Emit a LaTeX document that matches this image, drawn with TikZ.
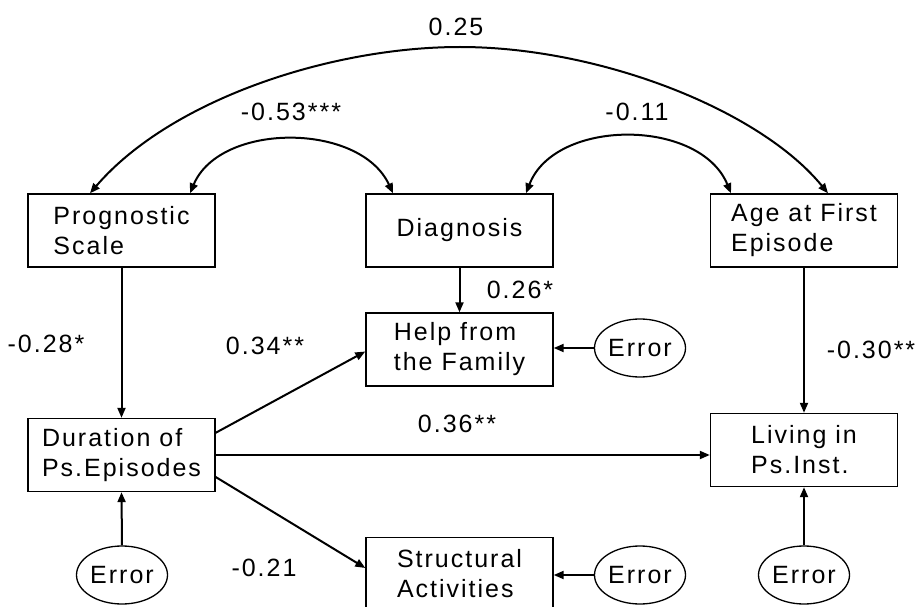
\documentclass[tikz,border=0pt]{standalone}
\usepackage{fontspec}
\setmainfont{Liberation Sans}[LetterSpace=8]
\usetikzlibrary{arrows.meta,shapes.geometric}
\begin{document}
\begin{tikzpicture}[x=1pt,y=-1pt,
  font=\fontsize{25}{30}\selectfont,
  box/.style={draw, line width=1.4pt, minimum width=187pt, minimum height=73pt, align=left, inner sep=0pt},
  err/.style={draw, ellipse, line width=1.3pt, minimum width=91pt, minimum height=58pt, inner sep=0pt},
  arr/.style={line width=2pt, -{Triangle[length=10pt,width=8pt]}},
  darr/.style={line width=2pt, {Triangle[length=10pt,width=8pt]}-{Triangle[length=10pt,width=8pt]}},
  lab/.style={inner sep=0pt}]
\useasboundingbox (0,0) rectangle (916,607);
\clip (0,0) rectangle (916,607);
% boxes
\node[box] (prog) at (121.5,230.5) {Prognostic\\Scale};
\node[box] (diag) at (459.5,230.5) {Diagnosis};
\node[box] (age)  at (804,230.5) {Age at First\\Episode};
\node[box] (help) at (459.5,349.5) {Help from\\the Family};
\node[box] (dur)  at (121.5,455) {Duration of\\Ps.Episodes};
\node[box] (liv)  at (804,450) {Living in\\Ps.Inst.};
\node[box] (str)  at (459.5,574) {Structural\\Activities};
% errors
\node[err] (eh) at (640,348) {Error};
\node[err] (es) at (640,575) {Error};
\node[err] (ed) at (122,575) {Error};
\node[err] (el) at (804,575) {Error};
% straight arrows
\draw[arr] (prog.south) -- (dur.north);
\draw[arr] (diag.south) -- (help.north);
\draw[arr] (age.south) -- (liv.north);
\draw[arr] (eh.west) -- (eh.west -| help.east);
\draw[arr] (es.west) -- (es.west -| str.east);
\draw[arr] (ed.north) -- (dur.south);
\draw[arr] (el.north) -- (liv.south);
\draw[arr] ([yshift=-15pt]dur.north east) -- ([yshift=-2pt]help.west);
\draw[arr] (dur.east) -- (dur.east -| liv.west);
\draw[arr] ([yshift=-22pt]dur.east) -- ([yshift=6pt]str.west);
% curved arrows
\draw[darr] ([xshift=-31.5pt]prog.north) .. controls (170,100) and (330,47) .. (460,47)
   .. controls (600,47) and (760,110) .. ([xshift=24pt]age.north);
\draw[darr] ([xshift=68.5pt]prog.north) .. controls (220,122) and (360,122) .. ([xshift=-66.5pt]diag.north);
\draw[darr] ([xshift=66.5pt]diag.north) .. controls (555,118) and (700,118) .. ([xshift=-73pt]age.north);
% labels
\node[lab] (l1) at (456,27) {0.25};
\node[lab] (l2) at (291,112) {-0.53***};
\node[lab] (l3) at (637,112) {-0.11};
\node[lab] (l4) at (520,290) {0.26*};
\node[lab] (l5) at (46,344) {-0.28*};
\node[lab] (l6) at (265,346) {0.34**};
\node[lab] (l7) at (457,424) {0.36**};
\node[lab] (l8) at (871,350) {-0.30**};
\node[lab] (l9) at (264,568) {-0.21};
\end{tikzpicture}
\end{document}
